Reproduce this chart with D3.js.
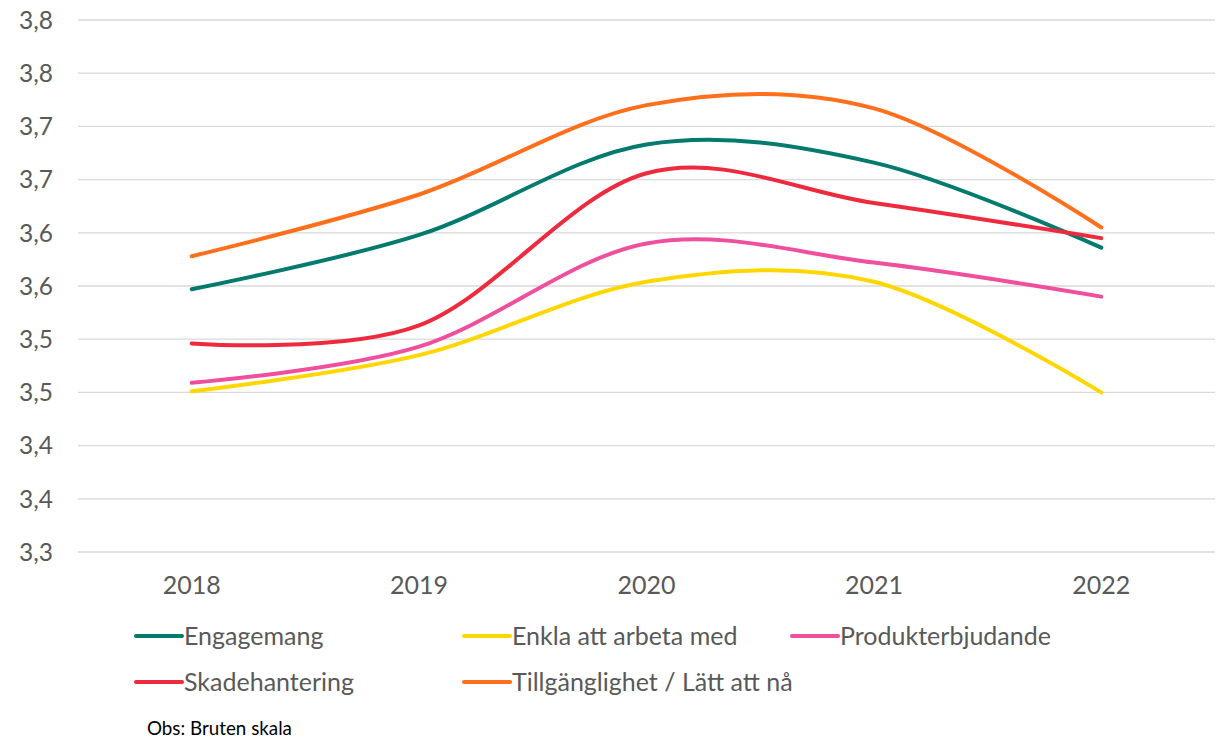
<!DOCTYPE html>
<html>
<head>
<meta charset="utf-8">
<script src="https://cdn.jsdelivr.net/npm/d3@7"></script>
<style>
  body { margin: 0; background: #fff; }
  svg { display: block; font-family: Lato, "Open Sans", sans-serif; }
</style>
</head>
<body>
<svg width="1222" height="739"></svg>
<script>
// data
const years = ['2018', '2019', '2020', '2021', '2022'];
const seriesNames = ['Engagemang', 'Enkla att arbeta med', 'Produkterbjudande', 'Skadehantering', 'Tillgänglighet / Lätt att nå'];
const engagemang = [3.547, 3.598, 3.683, 3.666, 3.586];
const enkla = [3.451, 3.485, 3.554, 3.554, 3.450];
const produkt = [3.459, 3.493, 3.590, 3.572, 3.540];
const skade = [3.496, 3.513, 3.656, 3.628, 3.595];
const tillg = [3.578, 3.636, 3.720, 3.717, 3.605];
const yTicks = [3.30, 3.35, 3.40, 3.45, 3.50, 3.55, 3.60, 3.65, 3.70, 3.75, 3.80];
const yTickLabels = ['3,3', '3,4', '3,4', '3,5', '3,5', '3,6', '3,6', '3,7', '3,7', '3,8', '3,8'];
const colors = ['#037a6e', '#ffd700', '#ef4f9c', '#ee2a3f', '#ff6f1c'];

const allValues = [engagemang, enkla, produkt, skade, tillg];
const series = seriesNames.map((name, i) => ({name: name, values: allValues[i], color: colors[i]}));

var svg = d3.select('svg');
const margin = {top: 20, left: 78, right: 7, bottom: 187};
const width = 1222, height = 739;

var xscale = d3.scaleBand()
    .domain(years)
    .range([margin.left, width - margin.right]);

var yscale = d3.scaleLinear()
    .domain([3.3, 3.8])
    .range([height - margin.bottom, margin.top]);

// grid
svg.append('g').selectAll('line').data(yTicks)
  .enter().append('line')
    .attr('x1', margin.left)
    .attr('x2', width - margin.right)
    .attr('y1', d => yscale(d))
    .attr('y2', d => yscale(d))
    .attr('stroke', '#d9d9d9')
    .attr('stroke-width', 1.3);

// y labels
svg.append('g').selectAll('text').data(yTicks)
  .enter().append('text')
    .attr('x', 53)
    .attr('y', d => yscale(d))
    .attr('dy', '0.36em')
    .attr('text-anchor', 'end')
    .attr('fill', '#595959')
    .attr('font-size', 24.5)
    .text((d, i) => yTickLabels[i]);

// x labels
svg.append('g').selectAll('text').data(years)
  .enter().append('text')
    .attr('x', d => xscale(d) + xscale.bandwidth() / 2)
    .attr('y', 594)
    .attr('text-anchor', 'middle')
    .attr('fill', '#595959')
    .attr('font-size', 25)
    .text(d => d);

const line = d3.line()
    .x((d, i) => xscale(years[i]) + xscale.bandwidth() / 2)
    .y(d => yscale(d))
    .curve(d3.curveCardinal.tension(0));

svg.append('g').selectAll('path').data(series)
  .enter().append('path')
    .attr('d', d => line(d.values))
    .attr('fill', 'none')
    .attr('stroke', d => d.color)
    .attr('stroke-width', 4)
    .attr('stroke-linecap', 'round');

// legend
const leg = svg.append('g').selectAll('g').data(series)
  .enter().append('g')
    .attr('transform', (d, i) => `translate(${136 + (i % 3) * 328},${636 + Math.floor(i / 3) * 46})`);

leg.append('line')
    .attr('x1', 0).attr('x2', 46)
    .attr('stroke', d => d.color)
    .attr('stroke-width', 4)
    .attr('stroke-linecap', 'round');

leg.append('text')
    .attr('x', 48)
    .attr('dy', '0.36em')
    .attr('fill', '#595959')
    .attr('font-size', 25)
    .text(d => d.name);

svg.append('text')
    .attr('x', 147)
    .attr('y', 735)
    .attr('fill', '#000')
    .attr('font-size', 18.8)
    .text('Obs: Bruten skala');
</script>
</body>
</html>
